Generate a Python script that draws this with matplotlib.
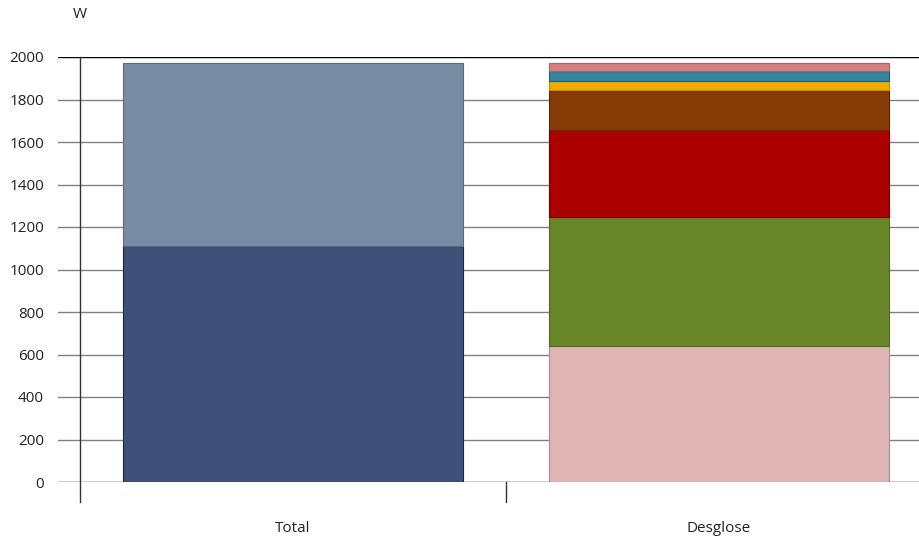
import numpy as np
import matplotlib.pyplot as plt

plt.rcParams['font.family'] = ['Open Sans', 'DejaVu Sans']

categories = ['Total', 'Desglose']
total_parts = [1111, 861]
total_colors = ['#3f5079', '#7a8ca4']
total_edges = ['#1c2748', '#5a6a82']
desglose_parts = [640, 607, 409, 189, 43, 46, 38]
desglose_colors = ['#dfb4b5', '#688528', '#ac0000', '#843b06', '#f0ab00', '#33869e', '#d48080']
desglose_edges = ['#b08a8b', '#4f6a1c', '#7a0000', '#5e2a04', '#c48a00', '#1f5f72', '#b06060']
yticks = [0, 200, 400, 600, 800, 1000, 1200, 1400, 1600, 1800, 2000]

W, H = 919, 538
fig = plt.figure(figsize=(W / 100, H / 100), dpi=100)
# axes runs past the right edge, like the original
ax = fig.add_axes([58 / W, (H - 482) / H, 874 / W, 425 / H])

bw = 0.8
left_x = -0.5 - 22 / 426
ax.set_xlim(left_x, 1.5)
ax.set_ylim(0, 2000)

# horizontal gridlines
for v in yticks:
    c = 'black' if v in (0, 2000) else '#808080'
    ax.axhline(v, color=c, lw=1, zorder=1)

bottom = 0
for val, col, ec in zip(total_parts, total_colors, total_edges):
    ax.bar(0, val, bw, bottom=bottom, color=col, edgecolor=ec, lw=0.8, zorder=3)
    bottom += val

bottom = 0
for val, col, ec in zip(desglose_parts, desglose_colors, desglose_edges):
    ax.bar(1, val, bw, bottom=bottom, color=col, edgecolor=ec, lw=0.8, zorder=3)
    bottom += val

# vertical axis line and category separators
ax.plot([-0.5, -0.5], [2000, -94], color='#333333', lw=1, clip_on=False, zorder=4)
ax.plot([0.5, 0.5], [0, -94], color='#333333', lw=1, clip_on=False, zorder=4)

for s in ax.spines.values():
    s.set_visible(False)

ax.set_yticks(yticks)
ax.set_yticklabels([str(v) for v in yticks], fontsize=11, color='#222222')
ax.tick_params(axis='y', length=0, pad=10)
ax.set_xticks([0, 1])
ax.set_xticklabels(categories, fontsize=11, color='#222222')
ax.tick_params(axis='x', length=0, pad=28)

fig.text(80 / W, 1 - 15 / H, 'W', fontsize=11, color='#222222', ha='center', va='center')

fig.savefig('out.png', dpi=100)
